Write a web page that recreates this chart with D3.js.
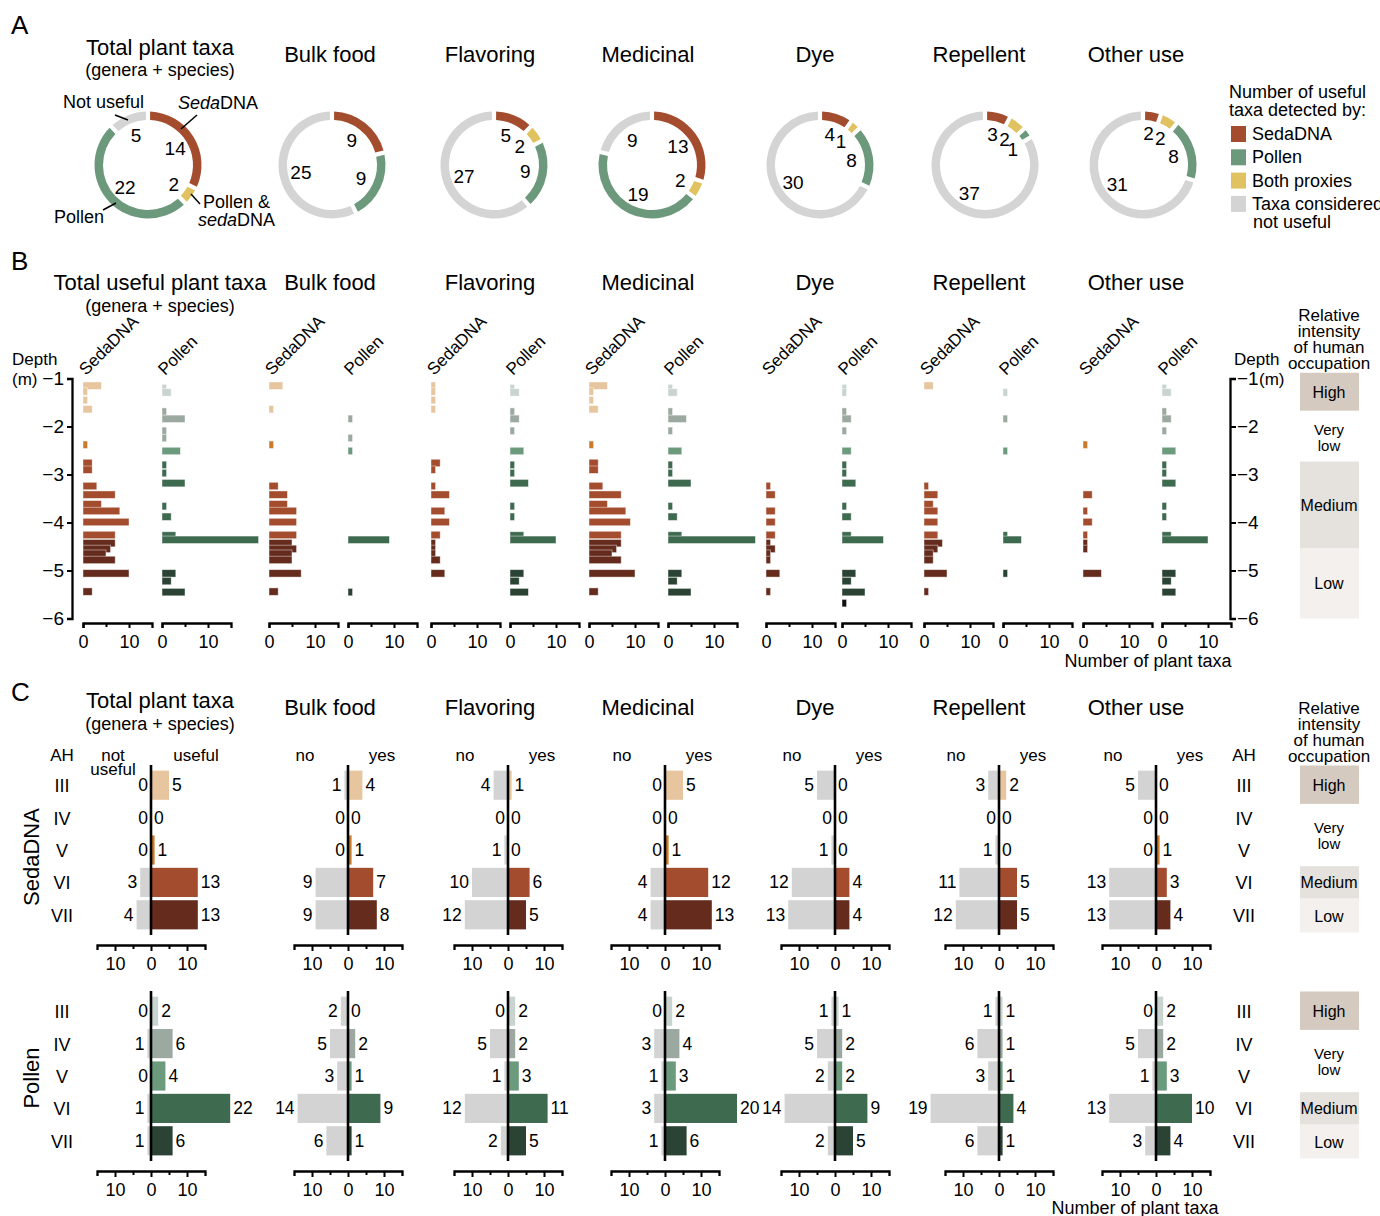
<!DOCTYPE html>
<html>
<head>
<meta charset="utf-8">
<script src="https://cdn.jsdelivr.net/npm/d3@7"></script>
<style>
body { margin: 0; background: #fff; }
svg { font-family: "Liberation Sans", Arial, Helvetica, sans-serif; }
</style>
</head>
<body>
<svg id="fig" width="1380" height="1216"></svg>
<script>
// ---- data ----
var categories = ["Total plant taxa", "Bulk food", "Flavoring", "Medicinal", "Dye", "Repellent", "Other use"];

// A: number of useful taxa detected by each proxy
var donutSeda   = [14, 9, 5, 13, 4, 3, 2];
var donutBoth   = [2, 0, 2, 2, 1, 2, 2];
var donutPollen = [22, 9, 9, 19, 8, 1, 8];
var donutNot    = [5, 25, 27, 9, 30, 37, 31];

// B: taxa per sample along the core (depth in m)
var sedaDepths = [-1.15, -1.27, -1.45, -1.64, -2.38, -2.76, -2.9, -3.24, -3.42, -3.62, -3.76, -3.99, -4.26, -4.43, -4.55, -4.65, -4.78, -5.06, -5.44];
var sedaCounts = [
	[4, 1, 1, 2, 1, 2, 2, 3, 7, 4, 8, 10, 7, 7, 6, 5, 7, 10, 2],
	[3, 0, 0, 1, 1, 0, 0, 2, 4, 4, 6, 6, 6, 5, 6, 5, 5, 7, 2],
	[1, 1, 1, 1, 0, 2, 1, 1, 4, 0, 3, 4, 2, 1, 1, 1, 2, 3, 0],
	[4, 1, 1, 2, 1, 2, 2, 3, 7, 4, 8, 9, 7, 7, 6, 5, 7, 10, 2],
	[0, 0, 0, 0, 0, 0, 0, 1, 2, 0, 2, 2, 2, 1, 2, 1, 1, 3, 1],
	[2, 0, 0, 0, 0, 0, 0, 1, 3, 2, 3, 3, 3, 4, 3, 2, 2, 5, 1],
	[0, 0, 0, 0, 1, 0, 0, 0, 2, 0, 1, 2, 1, 1, 1, 0, 0, 4, 0]
];
var pollenDepths = [-1.2, -1.29, -1.69, -1.84, -2.09, -2.24, -2.51, -2.8, -2.97, -3.18, -3.66, -3.88, -4.27, -4.36, -5.06, -5.22, -5.45, -5.68];
var pollenCounts = [
	[1, 2, 1, 5, 1, 1, 4, 1, 1, 5, 1, 2, 3, 21, 3, 2, 5, 0],
	[0, 0, 0, 1, 0, 1, 1, 0, 0, 0, 0, 0, 0, 9, 0, 0, 1, 0],
	[1, 2, 1, 2, 1, 0, 3, 1, 1, 4, 1, 1, 3, 10, 3, 2, 4, 0],
	[1, 2, 1, 4, 1, 0, 3, 1, 1, 5, 1, 2, 3, 19, 3, 2, 5, 0],
	[1, 1, 1, 2, 1, 0, 2, 1, 1, 3, 1, 2, 2, 9, 3, 2, 5, 1],
	[0, 1, 0, 1, 0, 0, 1, 0, 0, 0, 0, 0, 1, 4, 1, 0, 0, 0],
	[1, 2, 1, 2, 1, 0, 3, 1, 1, 3, 1, 1, 2, 10, 3, 2, 3, 0]
];

// C: taxa per archaeological horizon (AH), not useful / useful
var ahRows = ["III", "IV", "V", "VI", "VII"];
var sedaNo  = [[0, 0, 0, 3, 4], [1, 0, 0, 9, 9], [4, 0, 1, 10, 12], [0, 0, 0, 4, 4], [5, 0, 1, 12, 13], [3, 0, 1, 11, 12], [5, 0, 0, 13, 13]];
var sedaYes = [[5, 0, 1, 13, 13], [4, 0, 1, 7, 8], [1, 0, 0, 6, 5], [5, 0, 1, 12, 13], [0, 0, 0, 4, 4], [2, 0, 0, 5, 5], [0, 0, 1, 3, 4]];
var pollenNo  = [[0, 1, 0, 1, 1], [2, 5, 3, 14, 6], [0, 5, 1, 12, 2], [0, 3, 1, 3, 1], [1, 5, 2, 14, 2], [1, 6, 3, 19, 6], [0, 5, 1, 13, 3]];
var pollenYes = [[2, 6, 4, 22, 6], [0, 2, 1, 9, 1], [2, 2, 3, 11, 5], [2, 4, 3, 20, 6], [1, 2, 2, 9, 5], [1, 1, 1, 4, 1], [2, 2, 3, 10, 4]];

// occupation intensity
var occLabels = ["High", "Very low", "Medium", "Low"];
var occDepth = [[-0.88, -1.67], [-1.67, -2.73], [-2.73, -4.54], [-4.54, -6]];
var occRows = [["III"], ["IV", "V"], ["VI"], ["VII"]];

// ---- layout / styles ----
var svg = d3.select("#fig");
var titleX = [160, 330, 490, 648, 815, 979, 1136];
var donutX = [148, 332, 494, 652, 820, 985, 1143];
var bSedaX0 = [83, 269, 431, 589, 766, 924, 1083];
var bPollenX0 = [162, 348, 510, 668, 842, 1003, 1162];
var cX0 = [151, 348, 508, 665, 835, 999, 1156];

var proxyColor = {seda: "#a44d2e", both: "#e1c260", pollen: "#6c997c", not: "#d4d4d4"};
var ahLimits = [-1.67, -2.3, -2.65, -4.39, -5.6];
var sedaColors = ["#e6c59f", "#e6c59f", "#c97b2c", "#a34c2e", "#652c1e", "#111"];
var pollenColors = ["#c9d4d0", "#9ba9a1", "#6c9a7d", "#3e6a50", "#2a4334", "#111"];
var occColors = ["#d5cac0", "none", "#e5e1dc", "#f3f0ed"];
var greyNo = "#d3d3d3";

function ahIndex(depth) {
	var k = 0;
	while (k < ahLimits.length && depth < ahLimits[k]) k++;
	return k;
}

function label(x, y, s, size, anchor) {
	return svg.append("text").attr("x", x).attr("y", y)
		.attr("font-size", size).attr("text-anchor", anchor || "start").text(s);
}

function styleAxis(g, size) {
	g.select(".domain").attr("stroke-width", 2.3);
	g.selectAll(".tick line").attr("stroke-width", 2);
	g.selectAll("text").attr("font-size", size || 18).attr("fill", "#000")
		.attr("font-family", '"Liberation Sans", Arial, sans-serif');
}

// panel letters
label(11, 34, "A", 26);
label(11, 270, "B", 26);
label(11, 701, "C", 26);

// ================= A =================
categories.forEach(function(cat, i) {
	if (i === 0) {
		label(titleX[i], 55, cat, 22, "middle");
		label(titleX[i], 76, "(genera + species)", 18, "middle");
	} else {
		label(titleX[i], 62, cat, 22, "middle");
	}
});

var pie = d3.pie().sort(null).value(function(d) { return d.v; }).padAngle(0.06);
var ring = d3.arc().innerRadius(45).outerRadius(53.5);

categories.forEach(function(cat, i) {
	var parts = [
		{k: "seda", v: donutSeda[i]},
		{k: "both", v: donutBoth[i]},
		{k: "pollen", v: donutPollen[i]},
		{k: "not", v: donutNot[i]}
	].filter(function(d) { return d.v > 0; });
	var arcs = pie(parts);
	// keep labels of small neighbouring slices apart
	var prev = -1;
	arcs.forEach(function(a) {
		var mid = (a.startAngle + a.endAngle) / 2;
		a.labelAngle = Math.max(mid, prev + 0.4);
		prev = a.labelAngle;
	});
	var g = svg.append("g").attr("transform", "translate(" + donutX[i] + ",165)");
	g.selectAll("path").data(arcs).enter().append("path")
		.attr("d", ring)
		.attr("fill", function(d) { return proxyColor[d.data.k]; });
	g.selectAll("text").data(arcs).enter().append("text")
		.attr("x", function(d) { return 32 * Math.sin(d.labelAngle); })
		.attr("y", function(d) { return -32 * Math.cos(d.labelAngle); })
		.attr("dy", "0.36em")
		.attr("text-anchor", "middle")
		.attr("font-size", 19)
		.text(function(d) { return d.data.v; });
});

// annotations on the first ring
label(63, 108, "Not useful", 18);
var t = label(178, 109, "", 18);
t.append("tspan").attr("font-style", "italic").text("Seda");
t.append("tspan").text("DNA");
label(203, 208, "Pollen &", 18);
t = label(198, 226, "", 18);
t.append("tspan").attr("font-style", "italic").text("seda");
t.append("tspan").text("DNA");
label(54, 223, "Pollen", 18);
[[115, 115, 128, 120], [197, 115, 181, 129], [191, 194, 200, 204], [103, 210, 116, 203]].forEach(function(l) {
	svg.append("line").attr("x1", l[0]).attr("y1", l[1]).attr("x2", l[2]).attr("y2", l[3])
		.attr("stroke", "#000").attr("stroke-width", 1.5);
});

// legend
label(1229, 98, "Number of useful", 18);
label(1229, 116, "taxa detected by:", 18);
var legendItems = [["seda", "SedaDNA"], ["pollen", "Pollen"], ["both", "Both proxies"], ["not", "Taxa considered"]];
legendItems.forEach(function(d, k) {
	var y = 126 + k * 23.3;
	svg.append("rect").attr("x", 1231).attr("y", y).attr("width", 15).attr("height", 16)
		.attr("fill", proxyColor[d[0]]);
	label(1252, y + 14, d[1], 18);
});
label(1253, 228, "not useful", 18);

// ================= B =================
categories.forEach(function(cat, i) {
	if (i === 0) {
		label(titleX[i], 290, "Total useful plant taxa", 22, "middle");
		label(titleX[i], 312, "(genera + species)", 18, "middle");
	} else {
		label(titleX[i], 290, cat, 22, "middle");
	}
});

var bY = d3.scaleLinear().domain([-1, -6]).range([378.5, 618.5]);
var sampleH = bY(-1.155) - bY(-1);

function depthColumn(x0, depths, counts, colors, name) {
	var x = d3.scaleLinear().domain([0, 15]).range([x0, x0 + 69]);
	var rows = depths.map(function(d, k) { return {depth: d, n: counts[k]}; })
		.filter(function(d) { return d.n > 0; });
	svg.append("g").selectAll("rect").data(rows).enter().append("rect")
		.attr("x", x(0))
		.attr("y", function(d) { return bY(d.depth) - sampleH / 2; })
		.attr("width", function(d) { return x(d.n) - x(0); })
		.attr("height", sampleH)
		.attr("fill", function(d) { return colors[ahIndex(d.depth)]; })
		.attr("stroke", "#fff").attr("stroke-opacity", 0.55).attr("stroke-width", 0.8);

	var ax = svg.append("g").attr("transform", "translate(0,623)")
		.call(d3.axisBottom(x).tickValues([0, 10]).tickSize(5).tickSizeOuter(5).tickPadding(7));
	styleAxis(ax, 18);
	var minor = svg.append("g").attr("transform", "translate(0,623)")
		.call(d3.axisBottom(x).tickValues([5]).tickSize(4).tickFormat(""));
	minor.select(".domain").remove();
	minor.selectAll("line").attr("stroke-width", 2);

	svg.append("text").attr("transform", "translate(" + (x0 + 3) + ",376) rotate(-45)")
		.attr("font-size", 17).text(name);
}

categories.forEach(function(cat, i) {
	depthColumn(bSedaX0[i], sedaDepths, sedaCounts[i], sedaColors, "SedaDNA");
	depthColumn(bPollenX0[i], pollenDepths, pollenCounts[i], pollenColors, "Pollen");
});

var depthTicks = [-1, -2, -3, -4, -5, -6];
var leftAx = svg.append("g").attr("transform", "translate(72,0)")
	.call(d3.axisLeft(bY).tickValues(depthTicks).tickSize(5).tickPadding(3).tickFormat(d3.format("d")));
styleAxis(leftAx, 19);
label(12, 365, "Depth", 17);
label(12, 385, "(m)", 17);

var rightAx = svg.append("g").attr("transform", "translate(1230,0)")
	.call(d3.axisRight(bY).tickValues(depthTicks).tickSize(6).tickPadding(1).tickFormat(d3.format("d")));
styleAxis(rightAx, 19);
label(1234, 365, "Depth", 17);
label(1259, 385, "(m)", 17);

label(1148, 667, "Number of plant taxa", 18, "middle");

function occupationTitle(y0) {
	["Relative", "intensity", "of human", "occupation"].forEach(function(s, k) {
		label(1329, y0 + k * 16, s, 17, "middle");
	});
}
occupationTitle(321);

occLabels.forEach(function(name, k) {
	var y1 = bY(occDepth[k][0]), y2 = bY(occDepth[k][1]);
	if (occColors[k] !== "none") {
		svg.append("rect").attr("x", 1300).attr("y", y1).attr("width", 59).attr("height", y2 - y1)
			.attr("fill", occColors[k]);
		label(1329, (y1 + y2) / 2 + 6, name, 16, "middle");
	} else {
		label(1329, (y1 + y2) / 2 - 1, "Very", 15, "middle");
		label(1329, (y1 + y2) / 2 + 15, "low", 15, "middle");
	}
});

// ================= C =================
categories.forEach(function(cat, i) {
	if (i === 0) {
		label(titleX[i], 708, cat, 22, "middle");
		label(titleX[i], 730, "(genera + species)", 18, "middle");
	} else {
		label(titleX[i], 715, cat, 22, "middle");
	}
});

var rowSeda = d3.scaleBand().domain(ahRows).range([769, 931]).paddingInner(0.1).paddingOuter(0.05);
var rowPollen = rowSeda.copy().range([995, 1157]);

function divergingPanel(x0, row, no, yes, colors, axisY) {
	var x = d3.scaleLinear().domain([-15, 15]).range([x0 - 54, x0 + 54]);
	var g = svg.append("g");
	g.selectAll(".no").data(ahRows).enter().append("rect")
		.attr("x", function(d, k) { return x(-no[k]); })
		.attr("y", function(d) { return row(d); })
		.attr("width", function(d, k) { return x(0) - x(-no[k]); })
		.attr("height", row.bandwidth())
		.attr("fill", greyNo);
	g.selectAll(".yes").data(ahRows).enter().append("rect")
		.attr("x", x(0))
		.attr("y", function(d) { return row(d); })
		.attr("width", function(d, k) { return x(yes[k]) - x(0); })
		.attr("height", row.bandwidth())
		.attr("fill", function(d, k) { return colors[k]; });
	g.selectAll(".nolab").data(ahRows).enter().append("text")
		.attr("x", function(d, k) { return x(-no[k]) - 3; })
		.attr("y", function(d) { return row(d) + row.bandwidth() / 2 + 6; })
		.attr("text-anchor", "end").attr("font-size", 17.5)
		.text(function(d, k) { return no[k]; });
	g.selectAll(".yeslab").data(ahRows).enter().append("text")
		.attr("x", function(d, k) { return x(yes[k]) + 3; })
		.attr("y", function(d) { return row(d) + row.bandwidth() / 2 + 6; })
		.attr("font-size", 17.5)
		.text(function(d, k) { return yes[k]; });
	g.append("line").attr("x1", x(0)).attr("x2", x(0))
		.attr("y1", row.range()[0] - 4).attr("y2", row.range()[1] + 4)
		.attr("stroke", "#000").attr("stroke-width", 2.6);

	var ax = svg.append("g").attr("transform", "translate(0," + axisY + ")")
		.call(d3.axisBottom(x).tickValues([-10, 0, 10]).tickSize(6).tickSizeOuter(5).tickPadding(6)
			.tickFormat(function(d) { return Math.abs(d); }));
	styleAxis(ax, 18);
	var minor = svg.append("g").attr("transform", "translate(0," + axisY + ")")
		.call(d3.axisBottom(x).tickValues([-5, 5]).tickSize(4).tickFormat(""));
	minor.select(".domain").remove();
	minor.selectAll("line").attr("stroke-width", 2);
}

var sedaRowColors = ahRows.map(function(d, k) { return sedaColors[k]; });
var pollenRowColors = ahRows.map(function(d, k) { return pollenColors[k]; });

categories.forEach(function(cat, i) {
	divergingPanel(cX0[i], rowSeda, sedaNo[i], sedaYes[i], sedaRowColors, 945);
	divergingPanel(cX0[i], rowPollen, pollenNo[i], pollenYes[i], pollenRowColors, 1171);
	if (i === 0) {
		label(cX0[i] - 38, 761, "not", 17, "middle");
		label(cX0[i] - 38, 775, "useful", 17, "middle");
		label(cX0[i] + 45, 761, "useful", 17, "middle");
	} else {
		label(cX0[i] - 43, 761, "no", 17, "middle");
		label(cX0[i] + 34, 761, "yes", 17, "middle");
	}
});

// AH labels both sides
label(62, 761, "AH", 17, "middle");
label(1244, 761, "AH", 17, "middle");
[rowSeda, rowPollen].forEach(function(row) {
	ahRows.forEach(function(r) {
		var yc = row(r) + row.bandwidth() / 2 + 7;
		label(62, yc, r, 18, "middle");
		label(1244, yc, r, 18, "middle");
	});
});

svg.append("text").attr("transform", "translate(39,857) rotate(-90)")
	.attr("text-anchor", "middle").attr("font-size", 22).text("SedaDNA");
svg.append("text").attr("transform", "translate(39,1078) rotate(-90)")
	.attr("text-anchor", "middle").attr("font-size", 22).text("Pollen");

occupationTitle(714);

[rowSeda, rowPollen].forEach(function(row) {
	var step = row.step();
	occLabels.forEach(function(name, k) {
		var first = occRows[k][0], last = occRows[k][occRows[k].length - 1];
		var y1 = row(first) + row.bandwidth() / 2 - step / 2;
		var y2 = row(last) + row.bandwidth() / 2 + step / 2;
		if (k === 0) { y1 -= 3.5; y2 += 2.5; }
		if (k === 3) { y2 += 1.5; }
		if (occColors[k] !== "none") {
			svg.append("rect").attr("x", 1300).attr("y", y1).attr("width", 59).attr("height", y2 - y1)
				.attr("fill", occColors[k]);
			label(1329, (y1 + y2) / 2 + 6, name, 16, "middle");
		} else {
			label(1329, (y1 + y2) / 2 - 1, "Very", 15, "middle");
			label(1329, (y1 + y2) / 2 + 15, "low", 15, "middle");
		}
	});
});

label(1135, 1214, "Number of plant taxa", 18, "middle");
</script>
</body>
</html>
